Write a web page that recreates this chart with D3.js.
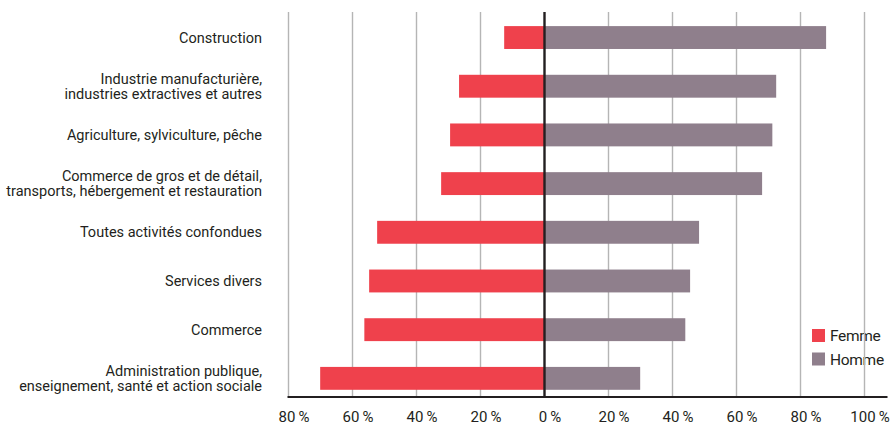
<!DOCTYPE html>
<html>
<head>
<meta charset="utf-8">
<script src="https://cdn.jsdelivr.net/npm/d3@7"></script>
<style>
  html, body { margin: 0; padding: 0; background: #fff; }
  svg { display: block; }
  text { font-family: Roboto, "Liberation Sans", sans-serif; fill: #231f20; }
</style>
</head>
<body>
<svg id="chart" width="893" height="425"></svg>
<script>
// Sector labels (each entry split into display lines)
const categories = [
  ["Construction"],
  ["Industrie manufacturière,", "industries extractives et autres"],
  ["Agriculture, sylviculture, pêche"],
  ["Commerce de gros et de détail,", "transports, hébergement et restauration"],
  ["Toutes activités confondues"],
  ["Services divers"],
  ["Commerce"],
  ["Administration publique,", "enseignement, santé et action sociale"]
];
// Share of employment by sex (%)
const femme = [12.6, 26.7, 29.5, 32.3, 52.3, 54.8, 56.3, 70.1];
const homme = [88.0, 72.4, 71.2, 68.0, 48.3, 45.5, 44.0, 29.9];
const tickValues = [-80, -60, -40, -20, 0, 20, 40, 60, 80, 100];
const seriesNames = ["Femme", "Homme"];
const colors = { Femme: "#ef414c", Homme: "#8f7f8c" };

const svg = d3.select("#chart");
const keys = categories.map(c => c.join(" "));

const x = d3.scaleLinear().domain([-80, 100]).range([288.5, 864.5]);
const y = d3.scaleBand().domain(keys).range([13.2, 402.7])
  .paddingInner(0.53).paddingOuter(0.265);

const plotTop = 12, axisY = 397;

// legend (under the gridlines)
const legend = svg.append("g");
seriesNames.forEach((name, i) => {
  const g = legend.append("g").attr("transform", `translate(812,${329 + i * 23.5})`);
  g.append("rect").attr("width", 13).attr("height", 13).attr("fill", colors[name]);
  g.append("text").attr("x", 18).attr("y", 12).style("font-size", "15.5px")
    .attr("letter-spacing", "-0.3px").text(name);
});

// vertical gridlines
svg.append("g").selectAll("line")
  .data(tickValues.filter(v => v !== 0))
  .join("line")
  .attr("x1", d => x(d)).attr("x2", d => x(d))
  .attr("y1", plotTop).attr("y2", axisY)
  .attr("stroke", "#b5b5b5").attr("stroke-width", 1.4);

// bars
const rows = keys.map((k, i) => ({ key: k, f: femme[i], h: homme[i] }));
svg.append("g").selectAll("rect")
  .data(rows).join("rect")
  .attr("x", d => x(-d.f)).attr("width", d => x(0) - x(-d.f))
  .attr("y", d => y(d.key)).attr("height", y.bandwidth())
  .attr("fill", colors.Femme);
svg.append("g").selectAll("rect")
  .data(rows).join("rect")
  .attr("x", x(0)).attr("width", d => x(d.h) - x(0))
  .attr("y", d => y(d.key)).attr("height", y.bandwidth())
  .attr("fill", colors.Homme);

// zero line
svg.append("line")
  .attr("x1", x(0)).attr("x2", x(0)).attr("y1", plotTop).attr("y2", axisY)
  .attr("stroke", "#231f20").attr("stroke-width", 2.4);

// bottom axis
const axis = d3.axisBottom(x).tickValues(tickValues).tickSize(0)
  .tickFormat(d => Math.abs(d) + "\u2009%");
const ag = svg.append("g").attr("transform", `translate(0,${axisY})`).call(axis);
ag.select(".domain").remove();
ag.selectAll("text").attr("y", 0).attr("dy", "24.5px").attr("dx", "5px")
  .style("font-size", "15px").attr("fill", "#231f20")
  .style("font-family", "Roboto, sans-serif");
svg.append("line")
  .attr("x1", x(-80) - 1).attr("x2", x(100) + 23).attr("y1", axisY).attr("y2", axisY)
  .attr("stroke", "#231f20").attr("stroke-width", 2);

// category labels, one text element per line
const labels = svg.append("g");
categories.forEach((lines, i) => {
  const cy = y(keys[i]) + y.bandwidth() / 2;
  lines.forEach((line, j) => {
    labels.append("text")
      .attr("text-anchor", "end")
      .attr("x", 262)
      .attr("y", cy + 5 - (lines.length - 1) * 7.5 + j * 15)
      .style("font-size", "14.5px")
      .text(line);
  });
});
</script>
</body>
</html>
